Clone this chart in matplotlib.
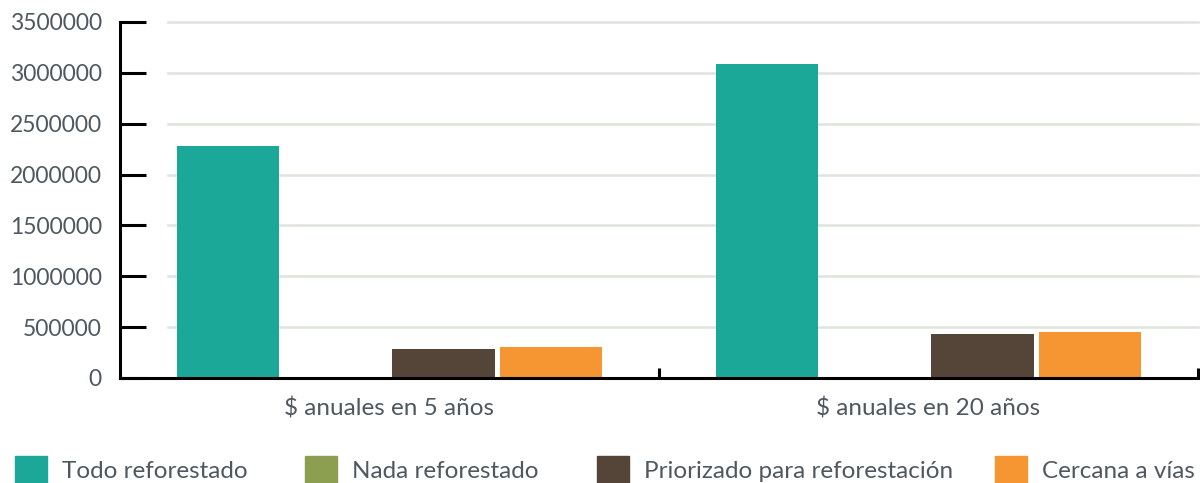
import matplotlib.pyplot as plt
from matplotlib.patches import Rectangle

plt.rcParams['font.family'] = ['Lato', 'DejaVu Sans']

categorias = ['$ anuales en 5 años', '$ anuales en 20 años']
series = ['Todo reforestado', 'Nada reforestado', 'Priorizado para reforestación', 'Cercana a vías']
todo = [2280000, 3087000]
nada = [0, 0]
priorizado = [285000, 432000]
cercana = [305000, 452000]
valores = [todo, nada, priorizado, cercana]
colores = ['#1ca898', '#8c9f50', '#554538', '#f69632']
yticks = [0, 500000, 1000000, 1500000, 2000000, 2500000, 3000000, 3500000]

TXT = '#4f5860'
W, H = 1200, 483

fig = plt.figure(figsize=(W / 100, H / 100), dpi=100)
ax = fig.add_axes([120 / W, 1 - 378 / H, (1198 - 120) / W, (378 - 22) / H])

slot = 0.2
for i, (nombre, vals, c) in enumerate(zip(series, valores, colores)):
    xs = [k + (i - 1.5) * slot for k in range(len(categorias))]
    ax.bar(xs, vals, width=0.19, color=c, label=nombre, zorder=3)

ax.set_xlim(-0.5, len(categorias) - 0.5)
ax.set_ylim(0, 3500000)

# grid lines start a little to the right of the spine
for y in yticks[1:]:
    ax.axhline(y, xmin=(168 - 120) / (1198 - 120), xmax=1.0, color='#dfe4dc',
               lw=1.8, zorder=1, clip_on=False)

ax.set_yticks(yticks)
ax.set_yticklabels([str(v) for v in yticks])
ax.tick_params(axis='y', direction='in', length=19, width=2.2, color='black',
               pad=13, labelsize=16.5, labelcolor=TXT)

ax.set_xticks([0.5, 1.5])
ax.set_xticklabels(['', ''])
ax.tick_params(axis='x', which='major', direction='in', length=7, width=2.2)
ax.set_xticks([0, 1], minor=True)
ax.set_xticklabels(categorias, minor=True)
ax.tick_params(axis='x', which='minor', length=0, pad=14, labelsize=17.5, labelcolor=TXT)

for s in ['top', 'right']:
    ax.spines[s].set_visible(False)
for s in ['left', 'bottom']:
    ax.spines[s].set_linewidth(2.2)
    ax.spines[s].set_color('black')
    ax.spines[s].set_zorder(4)

# legend drawn by hand along the bottom edge
leg_x = [15, 305, 597, 995]
for x, nombre, c in zip(leg_x, series, colores):
    fig.add_artist(Rectangle((x / W, 0), 32 / W, (483 - 456) / H,
                             transform=fig.transFigure, color=c))
    fig.text((x + 47) / W, 1 - 471 / H, nombre, fontsize=17.5, color=TXT, va='center')

fig.savefig('out.png', dpi=100)
